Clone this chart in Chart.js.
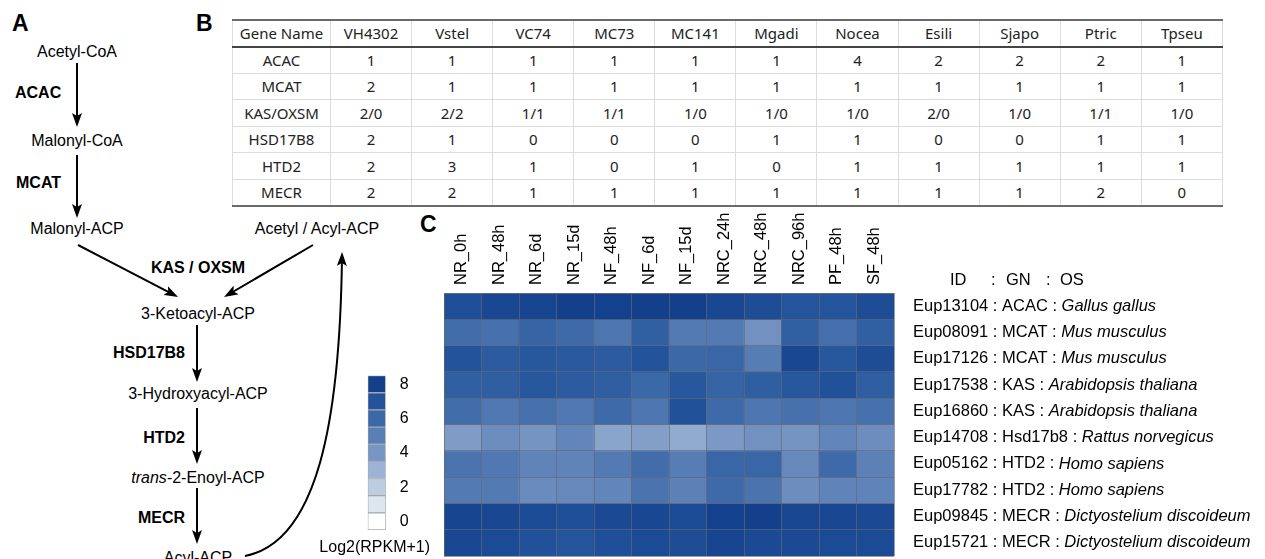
<!DOCTYPE html>
<html>
<head>
<meta charset="utf-8">
<title>FAS pathway</title>
<script src="https://cdn.jsdelivr.net/npm/chart.js@4.4.1/dist/chart.umd.min.js"></script>
<style>
  body { margin: 0; width: 1265px; height: 559px; overflow: hidden; background: #fff; position: relative;
         font-family: "Liberation Sans", Arial, sans-serif; }
  .panel-label { position: absolute; font-weight: bold; font-size: 23px; line-height: 1; color: #000; }
  #pathway { position: absolute; left: 0; top: 0; }
  #geneTable { position: absolute; left: 232px; top: 19px; border-collapse: collapse; table-layout: fixed;
               width: 991px; font-family: "Noto Sans", sans-serif; font-size: 15px; color: #222; }
  #geneTable td, #geneTable th { border: 1px solid #dcdcdc; padding: 0; text-align: center; font-weight: normal; }
  #geneTable tr { height: 26.5px; }
  #geneTable thead tr { border-top: 2px solid #6a6a6a; border-bottom: 2px solid #444; }
  #geneTable tbody tr:last-child { border-bottom: 2px solid #6a6a6a; }
  #geneTable col.first { width: 98px; }
  .box { position: absolute; }
</style>
</head>
<body>

<div class="panel-label" style="left:12px; top:12px;">A</div>
<div class="panel-label" style="left:196px; top:12px;">B</div>
<div class="panel-label" style="left:420px; top:213px;">C</div>

<svg id="pathway" width="1265" height="559" font-family="Liberation Sans, Arial, sans-serif" font-size="16">
  <defs>
    <marker id="head" viewBox="0 0 14 10" refX="10" refY="5" markerWidth="14" markerHeight="10"
            markerUnits="userSpaceOnUse" orient="auto">
      <path d="M0,0 L14,5 L0,10 L3,5 z" fill="#000"/>
    </marker>
  </defs>
  <g fill="#000" text-anchor="middle" dominant-baseline="central">
    <text x="77" y="51">Acetyl-CoA</text>
    <text x="77" y="140">Malonyl-CoA</text>
    <text x="77" y="228">Malonyl-ACP</text>
    <text x="317" y="228">Acetyl / Acyl-ACP</text>
    <text x="198" y="313">3-Ketoacyl-ACP</text>
    <text x="198" y="393">3-Hydroxyacyl-ACP</text>
    <text x="198" y="477"><tspan font-style="italic">trans</tspan>-2-Enoyl-ACP</text>
    <text x="198" y="557">Acyl-ACP</text>
  </g>
  <g fill="#000" font-weight="bold" dominant-baseline="central">
    <text x="15" y="92">ACAC</text>
    <text x="16" y="182">MCAT</text>
    <text x="198" y="267" text-anchor="middle">KAS / OXSM</text>
    <text x="185" y="352" text-anchor="end">HSD17B8</text>
    <text x="185" y="437" text-anchor="end">HTD2</text>
    <text x="185" y="517" text-anchor="end">MECR</text>
  </g>
  <g stroke="#000" stroke-width="2" fill="none" marker-end="url(#head)">
    <line x1="77" y1="63" x2="77" y2="123"/>
    <line x1="77" y1="155" x2="77" y2="214"/>
    <line x1="78" y1="245" x2="174.5" y2="295.2"/>
    <line x1="313" y1="245" x2="227.5" y2="295"/>
    <line x1="197" y1="325" x2="197" y2="378"/>
    <line x1="197" y1="408" x2="197" y2="460"/>
    <line x1="197" y1="488" x2="197" y2="540"/>
    <path d="M245,556 C318,542 340,420 342,256"/>
  </g>
</svg>

<table id="geneTable">
  <colgroup id="tableCols"></colgroup>
  <thead><tr id="tableHead"></tr></thead>
  <tbody id="tableBody"></tbody>
</table>

<div class="box" style="left:300px; top:360px; width:145px; height:199px;">
  <canvas id="chart_colorbar"></canvas>
</div>
<div class="box" style="left:440px; top:200px; width:825px; height:359px;">
  <canvas id="chart_heatmap"></canvas>
</div>

<script>
// ---- panel B : gene copy numbers per genome ----
const GENOMES = ["VH4302", "Vstel", "VC74", "MC73", "MC141", "Mgadi", "Nocea", "Esili", "Sjapo", "Ptric", "Tpseu"];
const TABLE_GENES = ["ACAC", "MCAT", "KAS/OXSM", "HSD17B8", "HTD2", "MECR"];
const COUNT_ACAC = ["1", "1", "1", "1", "1", "1", "4", "2", "2", "2", "1"];
const COUNT_MCAT = ["2", "1", "1", "1", "1", "1", "1", "1", "1", "1", "1"];
const COUNT_KAS = ["2/0", "2/2", "1/1", "1/1", "1/0", "1/0", "1/0", "2/0", "1/0", "1/1", "1/0"];
const COUNT_HSD17B8 = ["2", "1", "0", "0", "0", "1", "1", "0", "0", "1", "1"];
const COUNT_HTD2 = ["2", "3", "1", "0", "1", "0", "1", "1", "1", "1", "1"];
const COUNT_MECR = ["2", "2", "1", "1", "1", "1", "1", "1", "1", "2", "0"];

// ---- panel C : expression heatmap, log2(RPKM+1) ----
const SAMPLES = ["NR_0h", "NR_48h", "NR_6d", "NR_15d", "NF_48h", "NF_6d", "NF_15d", "NRC_24h", "NRC_48h", "NRC_96h", "PF_48h", "SF_48h"];
const GENE_IDS = ["Eup13104", "Eup08091", "Eup17126", "Eup17538", "Eup16860", "Eup14708", "Eup05162", "Eup17782", "Eup09845", "Eup15721"];
const GENE_NAMES = ["ACAC", "MCAT", "MCAT", "KAS", "KAS", "Hsd17b8", "HTD2", "HTD2", "MECR", "MECR"];
const SPECIES = ["Gallus gallus", "Mus musculus", "Mus musculus", "Arabidopsis thaliana", "Arabidopsis thaliana",
                 "Rattus norvegicus", "Homo sapiens", "Homo sapiens", "Dictyostelium discoideum", "Dictyostelium discoideum"];

const EXPR_EUP13104 = [7.2, 7.6, 7.7, 8.0, 7.9, 8.2, 8.0, 7.6, 7.3, 6.9, 6.9, 7.3];
const EXPR_EUP08091 = [5.8, 5.6, 6.2, 5.9, 5.4, 6.4, 5.2, 5.2, 4.2, 6.4, 5.7, 6.4];
const EXPR_EUP17126 = [7.0, 6.6, 6.8, 6.7, 6.6, 7.0, 6.0, 6.1, 5.1, 7.6, 6.8, 7.3];
const EXPR_EUP17538 = [6.4, 6.5, 6.8, 6.6, 6.5, 6.0, 6.8, 6.2, 6.5, 6.8, 7.1, 6.5];
const EXPR_EUP16860 = [5.8, 5.3, 5.6, 5.3, 5.9, 5.4, 7.1, 5.9, 5.4, 5.6, 5.4, 5.6];
const EXPR_EUP14708 = [3.8, 4.4, 4.1, 4.7, 3.5, 3.7, 3.3, 3.9, 4.2, 4.1, 4.7, 4.4];
const EXPR_EUP05162 = [5.5, 5.3, 4.8, 4.8, 5.2, 5.8, 5.1, 6.1, 6.1, 4.6, 5.9, 4.9];
const EXPR_EUP17782 = [5.2, 5.2, 4.5, 4.6, 4.7, 5.5, 4.9, 5.9, 5.5, 4.4, 4.8, 4.8];
const EXPR_EUP09845 = [7.7, 7.6, 7.4, 7.2, 7.5, 7.6, 7.4, 7.9, 8.1, 7.6, 7.6, 7.5];
const EXPR_EUP15721 = [7.6, 7.4, 7.1, 6.9, 7.2, 7.4, 7.3, 7.7, 7.5, 7.5, 7.4, 7.4];

const EXPR_ROWS = [EXPR_EUP13104, EXPR_EUP08091, EXPR_EUP17126, EXPR_EUP17538, EXPR_EUP16860,
                   EXPR_EUP14708, EXPR_EUP05162, EXPR_EUP17782, EXPR_EUP09845, EXPR_EUP15721];

const SCALE_STEPS = [0, 1, 2, 3, 4, 5, 6, 7, 8];
const SCALE_TICKS = [0, 2, 4, 6, 8];
const SCALE_COLORS = ["#ffffff", "#dde5f0", "#bccce1", "#9cb3d5", "#7896c3", "#5a7fb6", "#3b68a7", "#22539b", "#133f8b"];

// ---- build the table ----
const tableRows = [COUNT_ACAC, COUNT_MCAT, COUNT_KAS, COUNT_HSD17B8, COUNT_HTD2, COUNT_MECR];
document.getElementById("tableCols").innerHTML =
    '<col class="first">' + GENOMES.map(() => "<col>").join("");
document.getElementById("tableHead").innerHTML =
    "<th>Gene Name</th>" + GENOMES.map((g) => `<th>${g}</th>`).join("");
document.getElementById("tableBody").innerHTML = TABLE_GENES.map((gene, i) =>
    `<tr><td>${gene}</td>` + tableRows[i].map((v) => `<td>${v}</td>`).join("") + "</tr>").join("");

// ---- colour scale ----
const hexToRgb = (hex) => [1, 3, 5].map((p) => parseInt(hex.slice(p, p + 2), 16));
const valueToColor = (v) => {
    const c = Math.max(0, Math.min(8, v));
    const i = Math.min(7, Math.floor(c));
    const t = c - i;
    const a = hexToRgb(SCALE_COLORS[i]);
    const b = hexToRgb(SCALE_COLORS[i + 1]);
    const rgb = a.map((x, k) => Math.round(x + (b[k] - x) * t));
    return `rgb(${rgb[0]}, ${rgb[1]}, ${rgb[2]})`;
};

const FONT = '"Liberation Sans", Arial, sans-serif';
const GRID = "rgba(100, 104, 116, 0.65)";

// row labels "ID : GN : OS" with italic species, placed from the y scale
const rowLabels = {
    id: "rowLabels",
    afterDraw(chart) {
        const { ctx, chartArea } = chart;
        const yScale = chart.scales.y;
        const x0 = chartArea.right + 19;
        ctx.save();
        ctx.fillStyle = "#000";
        ctx.textBaseline = "middle";
        ctx.textAlign = "left";
        GENE_IDS.forEach((id, i) => {
            const y = yScale.getPixelForValue(i + 0.5);
            const head = id + " : " + GENE_NAMES[i] + " : ";
            ctx.font = "16.5px " + FONT;
            ctx.fillText(head, x0, y);
            const w = ctx.measureText(head).width;
            ctx.font = "italic 16.5px " + FONT;
            ctx.fillText(SPECIES[i], x0 + w, y);
        });
        ctx.font = "16.5px " + FONT;
        const hy = chartArea.top - 13;
        [["ID", 56], [":", 97], ["GN", 112], [":", 152], ["OS", 166]].forEach(([t, dx]) => {
            ctx.fillText(t, chartArea.right + dx, hy);
        });
        ctx.restore();
    },
};

const heatmapDatasets = GENE_IDS.map((id, r) => ({
    label: id,
    data: SAMPLES.map(() => 1),
    backgroundColor: EXPR_ROWS[r].map(valueToColor),
    borderWidth: 0,
    barPercentage: 1,
    categoryPercentage: 1,
}));

new Chart(document.getElementById("chart_heatmap"), {
    type: "bar",
    data: { labels: SAMPLES, datasets: heatmapDatasets },
    options: {
        responsive: true,
        maintainAspectRatio: false,
        animation: false,
        layout: { padding: { left: 4, right: 371, top: 0, bottom: 3 } },
        plugins: { legend: { display: false }, tooltip: { enabled: false } },
        scales: {
            x: {
                stacked: true,
                position: "top",
                grid: { offset: true, color: GRID, drawTicks: false, z: 1 },
                border: { display: true, color: GRID, z: 1 },
                ticks: {
                    autoSkip: false,
                    minRotation: 90,
                    maxRotation: 90,
                    padding: 8,
                    labelOffset: 19,
                    color: "#000",
                    font: { family: FONT, size: 16.5 },
                },
                afterFit: (scale) => {
                    scale.height = 93;
                    scale.paddingLeft = 0;
                    scale.paddingRight = 0;
                },
            },
            y: {
                stacked: true,
                reverse: true,
                min: 0,
                max: GENE_IDS.length,
                ticks: { display: false, stepSize: 1 },
                grid: { color: GRID, drawTicks: false, z: 1 },
                border: { display: false },
                afterFit: (scale) => { scale.width = 0; },
            },
        },
    },
    plugins: [rowLabels],
});

// ---- colour bar ----
const colorbarTitle = {
    id: "colorbarTitle",
    afterDraw(chart) {
        const { ctx, chartArea } = chart;
        ctx.save();
        ctx.fillStyle = "#000";
        ctx.font = "16px " + FONT;
        ctx.textAlign = "center";
        ctx.textBaseline = "middle";
        ctx.fillText("Log2(RPKM+1)", (chartArea.left + chartArea.right) / 2 - 2, chartArea.bottom + 18);
        ctx.restore();
    },
};

const colorbarDatasets = SCALE_STEPS.map((s) => ({
    label: String(s),
    data: [1],
    backgroundColor: SCALE_COLORS[s],
    borderColor: "#a3a8b0",
    borderWidth: 1,
    borderSkipped: false,
    barPercentage: 1,
    categoryPercentage: 1,
}));

new Chart(document.getElementById("chart_colorbar"), {
    type: "bar",
    data: { labels: [""], datasets: colorbarDatasets },
    options: {
        responsive: true,
        maintainAspectRatio: false,
        animation: false,
        layout: { padding: { left: 67.7, right: 29.3, top: 11.7, bottom: 0 } },
        plugins: { legend: { display: false }, tooltip: { enabled: false } },
        scales: {
            x: {
                stacked: true,
                grid: { display: false },
                border: { display: false },
                ticks: { display: false },
                afterFit: (scale) => {
                    scale.height = 29;
                    scale.paddingLeft = 0;
                    scale.paddingRight = 0;
                },
            },
            y: {
                stacked: true,
                position: "right",
                min: 0,
                max: SCALE_STEPS.length,
                grid: { display: false },
                border: { display: false },
                afterBuildTicks: (scale) => {
                    scale.ticks = SCALE_TICKS.map((v) => ({ value: v + 0.5 }));
                },
                ticks: {
                    color: "#000",
                    padding: 6,
                    font: { family: FONT, size: 16 },
                    callback: (value) => String(Math.round(value - 0.5)),
                },
                afterFit: (scale) => { scale.width = 30; },
            },
        },
    },
    plugins: [colorbarTitle],
});
</script>
</body>
</html>
